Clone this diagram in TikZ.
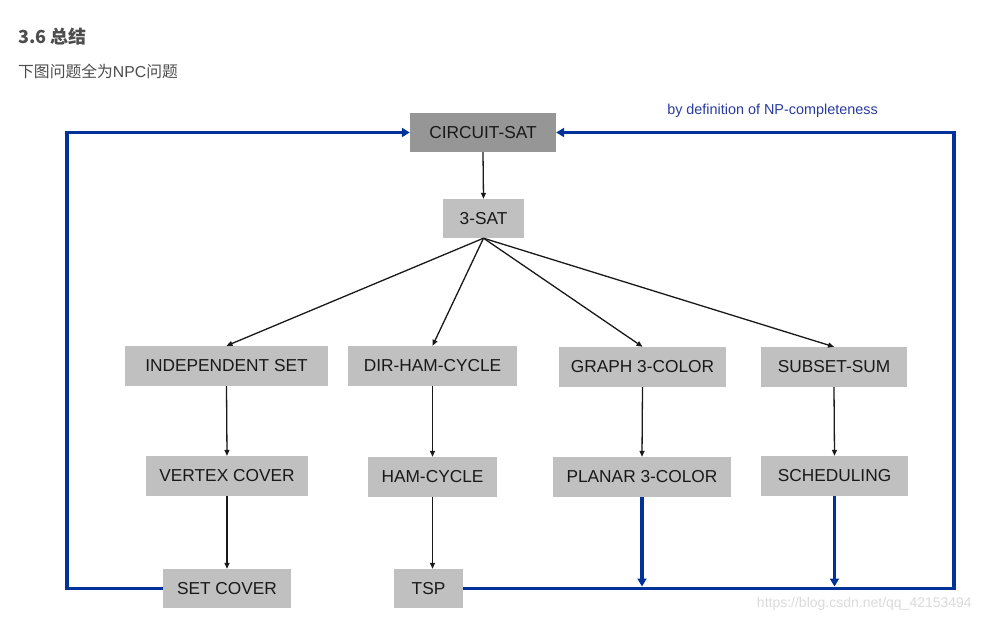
\documentclass[tikz,border=0pt]{standalone}
\usepackage{fontspec}
\setmainfont{Liberation Sans}
\newfontfamily\cjk{Noto Sans CJK SC}
\usetikzlibrary{arrows.meta}
\definecolor{linkblue}{RGB}{0,51,153}
\definecolor{textblue}{RGB}{40,60,160}
\definecolor{boxgray}{RGB}{192,192,192}
\definecolor{darkbox}{RGB}{150,150,150}
\definecolor{headgray}{RGB}{77,77,77}
\begin{document}
\begin{tikzpicture}[x=1pt,y=-1pt,
  probbox/.style={fill=boxgray, draw=none, inner sep=0pt, anchor=center,
    font=\fontsize{17.3}{20}\selectfont, text=black!90},
  redarrow/.style={draw=black!90, line width=1.3pt, -{Triangle[length=6pt,width=5pt]}},
  bluearrow/.style={draw=linkblue, line width=3.5pt, -{Triangle[length=8pt,width=9pt]}}]
\useasboundingbox[fill=white] (0,0) rectangle (983,618);

\node[anchor=west, text=headgray, inner sep=0pt] (head) at (18,37)
  {\cjk\bfseries\fontsize{18}{20}\selectfont 3.6 总结};
\node[anchor=west, text=headgray, inner sep=0pt] (sub) at (18,71)
  {\cjk\fontsize{15.8}{18}\selectfont 下图问题全为\fontspec{Liberation Sans}NPC\cjk 问题};

\node[probbox, fill=darkbox, minimum width=146pt, minimum height=39pt] (circ) at (483,132.5) {CIRCUIT-SAT};
\node[probbox, minimum width=81pt, minimum height=39pt] (sat) at (483.5,218.5) {3-SAT};
\node[probbox, minimum width=203pt, minimum height=40pt] (ind) at (226.5,366) {INDEPENDENT SET};
\node[probbox, minimum width=169pt, minimum height=40pt] (dir) at (432.5,366) {DIR-HAM-CYCLE};
\node[probbox, minimum width=167pt, minimum height=40pt] (g3c) at (642.5,367) {GRAPH 3-COLOR};
\node[probbox, minimum width=146pt, minimum height=40pt] (ssum) at (834,367) {SUBSET-SUM};
\node[probbox, minimum width=162pt, minimum height=40pt] (vc) at (227,476) {VERTEX COVER};
\node[probbox, minimum width=129pt, minimum height=40pt] (ham) at (432.5,477) {HAM-CYCLE};
\node[probbox, minimum width=178pt, minimum height=40pt] (p3c) at (642,477) {PLANAR 3-COLOR};
\node[probbox, minimum width=147pt, minimum height=40pt] (sched) at (834.5,476) {SCHEDULING};
\node[probbox, minimum width=128pt, minimum height=39pt] (setc) at (227,588.5) {SET COVER};
\node[probbox, minimum width=69pt, minimum height=39pt] (tsp) at (428.5,588.5) {TSP};

\node[anchor=center, text=textblue, inner sep=0pt, font=\fontsize{14.4}{17}\selectfont] (bydef) at (772.5,111) {by definition of NP-completeness};
\node[anchor=east, text=black!14, inner sep=0pt, font=\fontsize{14}{17}\selectfont] (wm) at (972,604) {https://blog.csdn.net/qq\_42153494};

\draw[redarrow] (circ.south) -- (sat.north);
\draw[redarrow] (sat.south) -- (ind.north);
\draw[redarrow] (sat.south) -- (dir.north);
\draw[redarrow] (sat.south) -- (g3c.north);
\draw[redarrow] (sat.south) -- (ssum.north);
\draw[redarrow] (ind.south) -- (vc.north);
\draw[redarrow] (vc.south) -- (setc.north);
\draw[redarrow] (dir.south) -- (ham.north);
\draw[redarrow] (ham.south) -- (ham.south |- tsp.north);
\draw[redarrow] (g3c.south) -- (p3c.north);
\draw[redarrow] (ssum.south) -- (sched.north);

\coordinate (tl) at (67,132.5);
\coordinate (tr) at (954,132.5);
\draw[bluearrow] (setc.west) -| (tl) -- (circ.west);
\draw[bluearrow] (tsp.east) -| (tr) -- (circ.east);
\draw[bluearrow, shorten >=2pt] (p3c.south) -- (p3c.south |- tsp.east);
\draw[bluearrow, shorten >=2pt] (sched.south) -- (sched.south |- tsp.east);
\end{tikzpicture}
\end{document}
